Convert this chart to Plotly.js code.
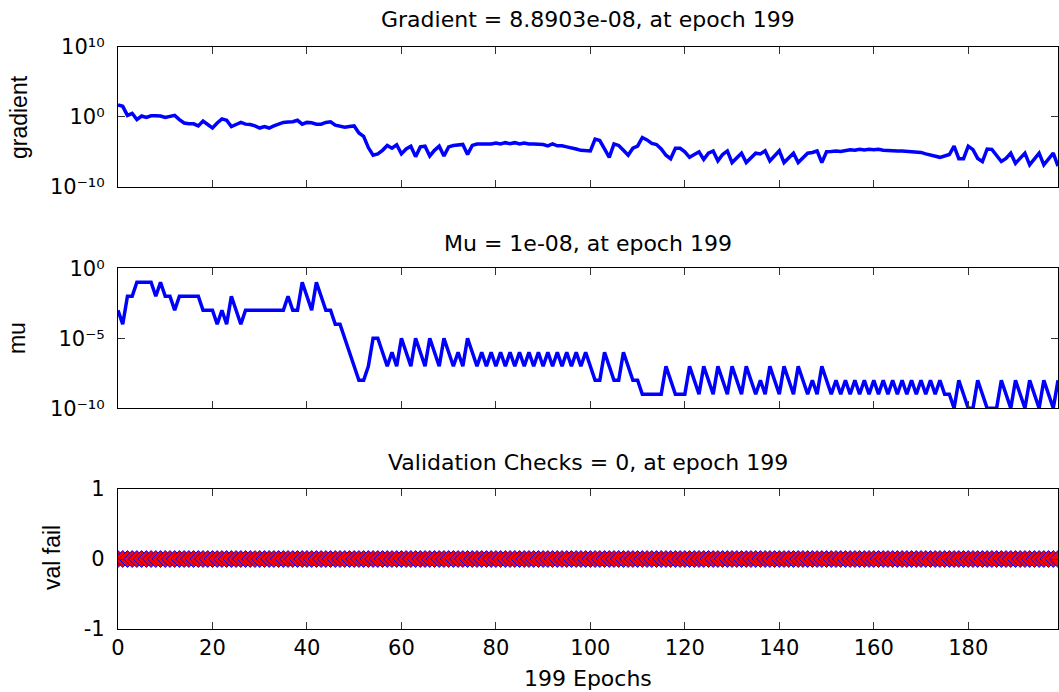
<!DOCTYPE html>
<html>
<head>
<meta charset="utf-8">
<script src="https://cdn.plot.ly/plotly-3.0.1.min.js"></script>
<style>html,body{margin:0;padding:0;background:#fff;} #chart{width:1059px;height:692px;}</style>
</head>
<body>
<div id="chart"></div>
<script>
// ---- data (one value per epoch 0..199) ----
const gradient = [
50,32,1.6,3.2,0.4,1.3,0.8,1.4,1.4,1.3,
0.8,1,1.6,0.4,0.13,0.1,0.1,0.05,0.25,0.08,
0.025,0.13,0.5,0.32,0.04,0.08,0.16,0.09,0.08,0.05,
0.025,0.04,0.025,0.05,0.1,0.16,0.18,0.2,0.32,0.09,
0.16,0.14,0.09,0.09,0.16,0.2,0.063,0.04,0.032,0.04,
0.05,0.005,1.6e-3,4e-5,3.2e-6,5e-6,1.6e-5,8e-5,3.2e-5,1e-4,
5e-6,2.5e-5,6.3e-5,2e-6,5e-5,6.3e-5,2.5e-6,1.6e-5,6.3e-5,2.5e-6,
5e-5,8e-5,1e-4,1.1e-4,4e-6,8e-5,1.3e-4,1.3e-4,1.3e-4,1.3e-4,
1.8e-4,1.3e-4,2e-4,1.4e-4,2e-4,1.3e-4,1.8e-4,1.3e-4,1.3e-4,1.3e-4,
1.1e-4,7e-5,1.3e-4,7e-5,7e-5,5e-5,4e-5,2.5e-5,1.6e-5,1.3e-5,
1.3e-5,6.3e-4,4e-4,2.5e-5,1.6e-6,1.3e-4,8e-5,1.6e-5,3.2e-6,3.2e-5,
6.3e-5,1.1e-3,5e-4,1.6e-4,1.1e-4,2.5e-5,3.2e-6,1e-6,3.2e-5,3.2e-5,
1e-5,1.6e-6,4e-6,1e-5,8e-7,6.3e-6,1.3e-5,5e-7,4e-6,1.3e-5,
2.8e-7,1.6e-6,6.3e-6,2.8e-7,1.6e-6,6.3e-6,5e-6,1.4e-5,5e-7,3.2e-6,
1.4e-5,2.8e-7,1.6e-6,6.3e-6,2.8e-7,1.6e-6,6.3e-6,8e-6,1.3e-5,2.8e-7,
1e-5,1.1e-5,1.3e-5,1.1e-5,1.4e-5,2e-5,1.6e-5,2.2e-5,1.8e-5,2.2e-5,
2e-5,2.2e-5,1.6e-5,1.4e-5,1.4e-5,1.3e-5,1.3e-5,1.1e-5,1e-5,1e-5,
8e-6,5e-6,3.2e-6,2.5e-6,1.6e-6,2.5e-6,4e-6,6.3e-5,1e-6,1e-6,
6.3e-5,2e-5,1.1e-6,4e-7,2.5e-5,2.2e-5,3.2e-6,4e-7,1.1e-6,6.3e-6,
2.2e-7,1.3e-6,6.3e-6,1.3e-7,1e-6,6.3e-6,1.3e-7,1e-6,6.3e-6,8.8903e-8
];

const mu = [
1e-3,1e-4,1e-2,1e-2,1e-1,1e-1,1e-1,1e-1,1e-2,1e-1,
1e-2,1e-2,1e-3,1e-2,1e-2,1e-2,1e-2,1e-2,1e-3,1e-3,
1e-3,1e-4,1e-3,1e-4,1e-2,1e-3,1e-4,1e-3,1e-3,1e-3,
1e-3,1e-3,1e-3,1e-3,1e-3,1e-3,1e-2,1e-3,1e-3,1e-1,
1e-2,1e-3,1e-1,1e-2,1e-3,1e-3,1e-4,1e-4,1e-5,1e-6,
1e-7,1e-8,1e-8,1e-7,1e-5,1e-5,1e-6,1e-7,1e-6,1e-7,
1e-5,1e-6,1e-7,1e-5,1e-6,1e-7,1e-5,1e-6,1e-7,1e-5,
1e-6,1e-7,1e-6,1e-7,1e-5,1e-6,1e-7,1e-6,1e-7,1e-6,
1e-7,1e-6,1e-7,1e-6,1e-7,1e-6,1e-7,1e-6,1e-7,1e-6,
1e-7,1e-6,1e-7,1e-6,1e-7,1e-6,1e-7,1e-6,1e-7,1e-6,
1e-7,1e-8,1e-8,1e-6,1e-7,1e-8,1e-8,1e-6,1e-7,1e-8,
1e-8,1e-9,1e-9,1e-9,1e-9,1e-9,1e-7,1e-8,1e-9,1e-9,
1e-9,1e-7,1e-8,1e-9,1e-7,1e-8,1e-9,1e-7,1e-8,1e-9,
1e-7,1e-8,1e-9,1e-7,1e-8,1e-9,1e-8,1e-9,1e-7,1e-8,
1e-9,1e-7,1e-8,1e-9,1e-7,1e-8,1e-9,1e-8,1e-9,1e-7,
1e-8,1e-9,1e-8,1e-9,1e-8,1e-9,1e-8,1e-9,1e-8,1e-9,
1e-8,1e-9,1e-8,1e-9,1e-8,1e-9,1e-8,1e-9,1e-8,1e-9,
1e-8,1e-9,1e-8,1e-9,1e-8,1e-9,1e-9,1e-10,1e-8,1e-9,
1e-10,1e-10,1e-8,1e-9,1e-10,1e-10,1e-10,1e-8,1e-9,1e-10,
1e-8,1e-9,1e-10,1e-8,1e-9,1e-10,1e-8,1e-9,1e-10,1e-8
];

const valFail = [
0,0,0,0,0,0,0,0,0,0, 0,0,0,0,0,0,0,0,0,0,
0,0,0,0,0,0,0,0,0,0, 0,0,0,0,0,0,0,0,0,0,
0,0,0,0,0,0,0,0,0,0, 0,0,0,0,0,0,0,0,0,0,
0,0,0,0,0,0,0,0,0,0, 0,0,0,0,0,0,0,0,0,0,
0,0,0,0,0,0,0,0,0,0, 0,0,0,0,0,0,0,0,0,0,
0,0,0,0,0,0,0,0,0,0, 0,0,0,0,0,0,0,0,0,0,
0,0,0,0,0,0,0,0,0,0, 0,0,0,0,0,0,0,0,0,0,
0,0,0,0,0,0,0,0,0,0, 0,0,0,0,0,0,0,0,0,0,
0,0,0,0,0,0,0,0,0,0, 0,0,0,0,0,0,0,0,0,0,
0,0,0,0,0,0,0,0,0,0, 0,0,0,0,0,0,0,0,0,0
];

const xTickVals = [0,20,40,60,80,100,120,140,160,180];
const gradTickVals = [1e-10,1,1e10];
const gradTickText = ['10\u207B\u00B9\u2070','10\u2070','10\u00B9\u2070'];
const muTickVals = [1e-10,1e-5,1];
const muTickText = ['10\u207B\u00B9\u2070','10\u207B\u2075','10\u2070'];
const valTickVals = [-1,0,1];

const titles = ['Gradient = 8.8903e-08, at epoch 199','Mu = 1e-08, at epoch 199','Validation Checks = 0, at epoch 199'];
const yLabels = ['gradient','mu','val fail'];
const xLabel = '199 Epochs';

// ---- styling ----
const tickFont = {family:'DejaVu Sans, Liberation Sans, Arial', size:21, color:'#000'};
const titleFont = {family:'DejaVu Sans, Liberation Sans, Arial', size:22, color:'#000'};
const labelFont = {family:'Liberation Sans, Arial', size:23, color:'#000'};

function xax(anchor, showLabels){
  return {anchor:anchor, domain:[0,1], range:[0,199], tickvals:xTickVals, ticktext:xTickVals.map(String),
    showticklabels:showLabels, ticks:'inside', ticklen:7, tickcolor:'#333', showline:true, linecolor:'#000',
    linewidth:1.3, mirror:'ticks', showgrid:false, zeroline:false, tickfont:tickFont, fixedrange:true};
}
function yax(anchor, domain, extra){
  return Object.assign({anchor:anchor, domain:domain, ticks:'inside', ticklen:7, tickcolor:'#333', showline:true,
    linecolor:'#000', linewidth:1.3, mirror:'ticks', showgrid:false, zeroline:false, tickfont:tickFont,
    ticklabelstandoff:8, fixedrange:true}, extra);
}

const traces = [
  {y:gradient, xaxis:'x', yaxis:'y', type:'scatter', mode:'lines', line:{color:'#0000ff', width:3.5}, hoverinfo:'skip'},
  {y:mu, xaxis:'x2', yaxis:'y2', type:'scatter', mode:'lines', line:{color:'#0000ff', width:3.5}, hoverinfo:'skip'},
  {y:valFail, xaxis:'x3', yaxis:'y3', type:'scatter', mode:'lines+markers', line:{color:'#0000ff', width:2},
   marker:{symbol:'diamond', size:13, color:'#ff0000', line:{color:'#0000ff', width:1}}, hoverinfo:'skip'}
];

const ann = [];
const titleY = [1.0464, 0.6632, 0.2869];
titles.forEach((t,i)=>ann.push({text:t, xref:'paper', yref:'paper', x:0.5, y:titleY[i], xanchor:'center', yanchor:'middle', showarrow:false, font:titleFont}));
const labX = [-0.1053, -0.1074, -0.0702];
const labY = [0.8797, 0.5, 0.122];
yLabels.forEach((t,i)=>ann.push({text:t, xref:'paper', yref:'paper', x:labX[i], y:labY[i], xanchor:'center', yanchor:'middle', textangle:-90, showarrow:false, font:labelFont}));
ann.push({text:xLabel, xref:'paper', yref:'paper', x:0.5, y:-0.0842, xanchor:'center', yanchor:'middle', showarrow:false, font:titleFont});

const layout = {
  width:1059, height:692,
  margin:{l:118, r:1, t:47, b:63},
  paper_bgcolor:'#fff', plot_bgcolor:'#fff',
  showlegend:false, hovermode:false,
  xaxis: xax('y', false),
  xaxis2: xax('y2', false),
  xaxis3: xax('y3', true),
  yaxis: yax('x', [0.760,1], {type:'log', range:[-10,10], tickvals:gradTickVals, ticktext:gradTickText}),
  yaxis2: yax('x2', [0.3792,0.6198], {type:'log', range:[-10,0], tickvals:muTickVals, ticktext:muTickText}),
  yaxis3: yax('x3', [0,0.2405], {range:[-1,1], tickvals:valTickVals, ticktext:valTickVals.map(String)}),
  annotations: ann
};

Plotly.newPlot('chart', traces, layout, {displayModeBar:false});
</script>
</body>
</html>
